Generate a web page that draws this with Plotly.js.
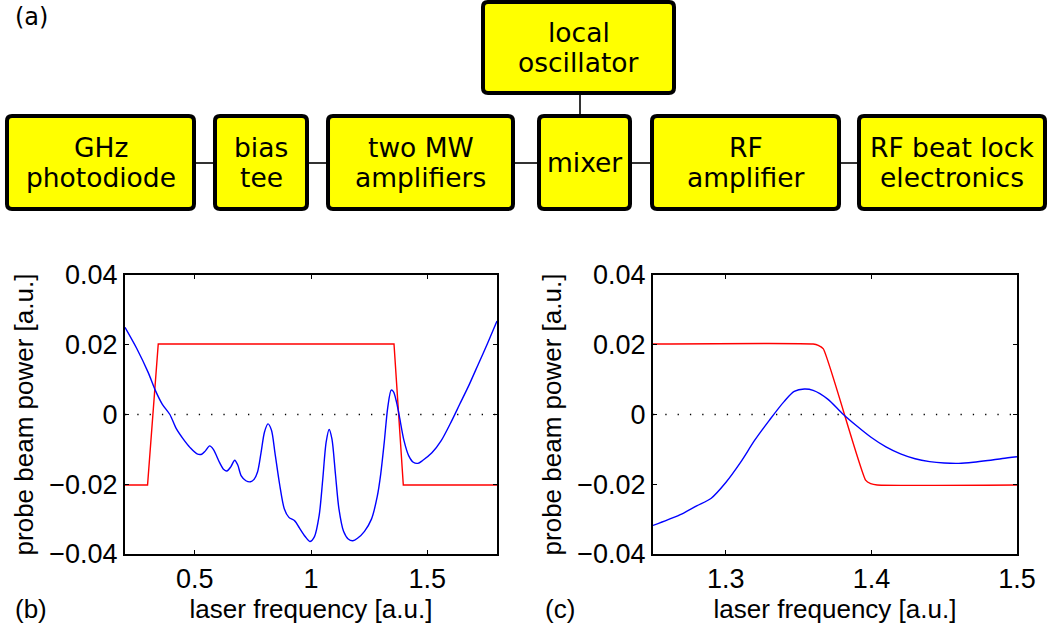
<!DOCTYPE html>
<html>
<head>
<meta charset="utf-8">
<script src="https://cdn.plot.ly/plotly-3.0.1.min.js"></script>
<style>html,body{margin:0;padding:0;background:#fff;}#chart{width:1054px;height:632px;}</style>
</head>
<body>
<div id="chart"></div>
<script>
// ---------- data: panel (b) ----------
const freqB = [0.2,0.25,0.30,0.33,0.36,0.393,0.42,0.45,0.48,0.51,0.53,0.545,0.564,0.58,0.607,0.625,0.638,0.655,0.672,0.685,0.700,0.72,0.74,0.755,0.77,0.785,0.80,0.815,0.83,0.845,0.865,0.885,0.905,0.93,0.95,0.975,0.995,1.015,1.035,1.05,1.065,1.078,1.09,1.105,1.12,1.14,1.16,1.18,1.20,1.23,1.26,1.285,1.30,1.315,1.33,1.345,1.355,1.368,1.38,1.40,1.42,1.44,1.46,1.48,1.52,1.56,1.60,1.64,1.68,1.72,1.76,1.80];
const signalB = [0.0250,0.0190,0.0120,0.0070,0.0030,0.0000,-0.0040,-0.0070,-0.0095,-0.0113,-0.0114,-0.0105,-0.0090,-0.0100,-0.0138,-0.0158,-0.0162,-0.0150,-0.0131,-0.0145,-0.0176,-0.0190,-0.0193,-0.0186,-0.0165,-0.0110,-0.0050,-0.0027,-0.0045,-0.0110,-0.0200,-0.0270,-0.0295,-0.0305,-0.0325,-0.0350,-0.0364,-0.0350,-0.0290,-0.0190,-0.0080,-0.0043,-0.0070,-0.0170,-0.0270,-0.0335,-0.0357,-0.0362,-0.0355,-0.0335,-0.0300,-0.0235,-0.0170,-0.0080,0.0020,0.0070,0.0065,0.0035,-0.0005,-0.0075,-0.0118,-0.0137,-0.0140,-0.0132,-0.0110,-0.0075,-0.0025,0.0030,0.0085,0.0145,0.0205,0.0268];
const stepFreqB = [0.2,0.297,0.343,1.357,1.397,1.8];
const stepB = [-0.0202,-0.0202,0.0202,0.0202,-0.0202,-0.0202];

// ---------- data: panel (c) ----------
const freqC = [1.25,1.26,1.27,1.28,1.29,1.30,1.31,1.32,1.33,1.34,1.347,1.354,1.36,1.37,1.38,1.39,1.40,1.41,1.42,1.43,1.44,1.45,1.46,1.47,1.48,1.49,1.50];
const signalC = [-0.0318,-0.0302,-0.0285,-0.0262,-0.0240,-0.0195,-0.0138,-0.0073,-0.0016,0.0037,0.0066,0.0073,0.0069,0.0044,0.0003,-0.0033,-0.0066,-0.0093,-0.0113,-0.0127,-0.0135,-0.0139,-0.0140,-0.0137,-0.0132,-0.0126,-0.0121];
const stepFreqC = [1.25,1.360,1.3635,1.367,1.396,1.3995,1.404,1.5];
const stepC = [0.0202,0.0202,0.0198,0.0188,-0.0188,-0.0198,-0.0202,-0.0202];

// ---------- tick labels ----------
const yTicks = [-0.04,-0.02,0,0.02,0.04];
const yTickText = ['\u22120.04','\u22120.02','0','0.02','0.04'];
const xTicksB = [0.5,1,1.5];
const xTickTextB = ['0.5','1','1.5'];
const xTicksC = [1.3,1.4,1.5];
const xTickTextC = ['1.3','1.4','1.5'];

// ---------- block diagram labels ----------
const blockLabels = [['GHz','photodiode'],['bias','tee'],['two MW','amplifiers'],['mixer'],['RF','amplifier'],['RF beat lock','electronics'],['local','oscillator']];

// ---------- layout geometry (pixels) ----------
const W = 1054, H = 632;
const px = v => v / W;
const py = v => 1 - v / H;
const boxGeom = [[7,116,194,209],[215,116,307,209],[328,116,513,209],[539,116,630,209],[652,116,839,209],[859,116,1045,209],[483,2,674,93]];
const links = [[194,163,215,163],[307,163,328,163],[513,163,539,163],[630,163,652,163],[839,163,859,163],[580,93,580,116]];
const lineGap = 31;

function roundRect(x0,y0,x1,y1,r){
  const X = v => px(v).toFixed(5), Y = v => py(v).toFixed(5);
  return 'M'+X(x0+r)+','+Y(y0)+' L'+X(x1-r)+','+Y(y0)+' Q'+X(x1)+','+Y(y0)+' '+X(x1)+','+Y(y0+r)+
    ' L'+X(x1)+','+Y(y1-r)+' Q'+X(x1)+','+Y(y1)+' '+X(x1-r)+','+Y(y1)+
    ' L'+X(x0+r)+','+Y(y1)+' Q'+X(x0)+','+Y(y1)+' '+X(x0)+','+Y(y1-r)+
    ' L'+X(x0)+','+Y(y0+r)+' Q'+X(x0)+','+Y(y0)+' '+X(x0+r)+','+Y(y0)+' Z';
}

const shapes = [];
links.forEach(l => shapes.push({type:'line', xref:'paper', yref:'paper', x0:px(l[0]), y0:py(l[1]), x1:px(l[2]), y1:py(l[3]), line:{color:'#333333', width:2}}));
boxGeom.forEach(b => shapes.push({type:'path', xref:'paper', yref:'paper', path:roundRect(b[0],b[1],b[2],b[3],5), fillcolor:'#ffff00', line:{color:'#000000', width:4}}));

const annotations = [];
blockLabels.forEach((lines,i) => {
  const b = boxGeom[i];
  const cx = (b[0]+b[2])/2, cy = (b[1]+b[3])/2;
  lines.forEach((t,k) => {
    const yy = cy + (k - (lines.length-1)/2) * lineGap;
    annotations.push({text:t, xref:'paper', yref:'paper', x:px(cx), y:py(yy), xanchor:'center', yanchor:'middle', showarrow:false, font:{family:'DejaVu Sans', size:26.5, color:'#000'}});
  });
});
annotations.push({text:'(a)', xref:'paper', yref:'paper', x:px(13), y:py(17), xanchor:'left', yanchor:'middle', showarrow:false, font:{family:'DejaVu Sans', size:24, color:'#000'}});
annotations.push({text:'(b)', xref:'paper', yref:'paper', x:px(13), y:py(609), xanchor:'left', yanchor:'middle', showarrow:false, font:{family:'Liberation Sans, Arial', size:26, color:'#000'}});
annotations.push({text:'(c)', xref:'paper', yref:'paper', x:px(543), y:py(609), xanchor:'left', yanchor:'middle', showarrow:false, font:{family:'Liberation Sans, Arial', size:26, color:'#000'}});

const traces = [
  {x:[0.2,1.8], y:[0,0], xaxis:'x', yaxis:'y', mode:'lines', line:{color:'#000', width:1.3, dash:'1.3px,11px'}, hoverinfo:'skip'},
  {x:stepFreqB, y:stepB, xaxis:'x', yaxis:'y', mode:'lines', line:{color:'#ff0000', width:1.4}},
  {x:freqB, y:signalB, xaxis:'x', yaxis:'y', mode:'lines', line:{color:'#0000ff', width:1.4, shape:'spline', smoothing:0.8}},
  {x:[1.25,1.5], y:[0,0], xaxis:'x2', yaxis:'y2', mode:'lines', line:{color:'#000', width:1.3, dash:'1.3px,11px'}, hoverinfo:'skip'},
  {x:stepFreqC, y:stepC, xaxis:'x2', yaxis:'y2', mode:'lines', line:{color:'#ff0000', width:1.4, shape:'spline', smoothing:0.5}},
  {x:freqC, y:signalC, xaxis:'x2', yaxis:'y2', mode:'lines', line:{color:'#0000ff', width:1.4, shape:'spline', smoothing:0.8}}
];

const tickFont = {family:'Liberation Sans, Arial', size:27, color:'#000'};
const titleFont = {family:'Liberation Sans, Arial', size:26, color:'#000'};
const axBase = {showline:true, linecolor:'#000', linewidth:2, mirror:'ticks', ticks:'inside', ticklen:4, tickwidth:1, tickcolor:'#000', showgrid:false, zeroline:false, tickfont:tickFont, fixedrange:true};
const yDom = [1-554/H, 1-275/H];

const layout = {
  width:W, height:H, margin:{l:0,r:0,t:0,b:0}, showlegend:false,
  paper_bgcolor:'#fff', plot_bgcolor:'#fff',
  xaxis: Object.assign({}, axBase, {domain:[px(125),px(497)], range:[0.2,1.8], tickvals:xTicksB, ticktext:xTickTextB, anchor:'y', title:{text:'laser frequency [a.u.]', font:titleFont, standoff:5}}),
  yaxis: Object.assign({}, axBase, {domain:yDom, range:[-0.04,0.04], tickvals:yTicks, ticktext:yTickText, anchor:'x', title:{text:'probe beam power [a.u.]', font:titleFont, standoff:8}}),
  xaxis2: Object.assign({}, axBase, {domain:[px(653),px(1017)], range:[1.25,1.5], tickvals:xTicksC, ticktext:xTickTextC, anchor:'y2', title:{text:'laser frequency [a.u.]', font:titleFont, standoff:5}}),
  yaxis2: Object.assign({}, axBase, {domain:yDom, range:[-0.04,0.04], tickvals:yTicks, ticktext:yTickText, anchor:'x2', title:{text:'probe beam power [a.u.]', font:titleFont, standoff:8}}),
  shapes: shapes,
  annotations: annotations
};

Plotly.newPlot('chart', traces, layout, {displayModeBar:false, staticPlot:true});
</script>
</body>
</html>
